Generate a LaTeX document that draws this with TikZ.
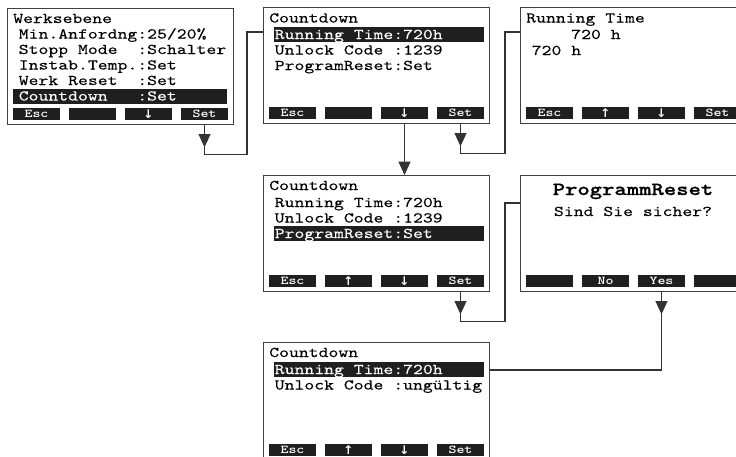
\documentclass[tikz,border=0pt]{standalone}
\usepackage{fontspec}
\usetikzlibrary{calc,arrows.meta,decorations.markings}
\newfontfamily\lcdfont{lmmono10-regular.otf}[FakeStretch=1.26,FakeBold=0.1]
\newfontfamily\lcdboldfont{lmmonolt10-bold.otf}[FakeStretch=1.26,FakeBold=0.9]
\newfontfamily\keyfont{lmmonolt10-bold.otf}[FakeStretch=1.26]
\newfontfamily\arrowfont{DejaVu Sans}
\newcommand\up{{\arrowfont\bfseries ↑}}
\newcommand\dn{{\arrowfont\bfseries ↓}}
% four soft keys under a screen: [y offset]{screen}{key 1}..{key 4}
\newcommand\keyrow[6][106]{%
  \node[key] (#2k1) at ($(#2.north west)+(29.5,#1)$) {#3};
  \node[key] (#2k2) at ($(#2.north west)+(85.5,#1)$) {#4};
  \node[key] (#2k3) at ($(#2.north west)+(141.5,#1)$) {#5};
  \node[key] (#2k4) at ($(#2.north west)+(197.5,#1)$) {#6};}
\begin{document}
\begin{tikzpicture}[x=0.75pt,y=-0.75pt,
  screen/.style={draw=black!75,line width=1pt,anchor=north west,
    minimum width=169.5pt,minimum height=87pt,inner sep=0pt},
  key/.style={fill=black!88,text=white,minimum width=35.25pt,minimum height=9pt,
    inner sep=0pt,font=\keyfont\fontsize{9}{9}\selectfont},
  bar/.style={fill=black!88,anchor=north west,minimum height=11.25pt,inner sep=0pt},
  row/.style={anchor=base west,inner sep=0pt,font=\lcdfont\fontsize{11.2}{13}\selectfont},
  hl/.style={row,text=white},
  conn/.style={draw=black!80,line width=0.8pt},
  tipmark/.style={postaction={decorate,decoration={markings,
    mark=at position 16.5pt with {\arrow{Triangle[length=10pt,width=9pt]}}}}}]
  \useasboundingbox (0,0) rectangle (736,457);
  \clip (0,0) rectangle (736,457);
  % Werksebene
  \node[screen] (s1) at (7,8) {};
  \node[bar,minimum width=160.5pt] (s1hl) at ($(s1.north west)+(6,81)$) {};
  \node[row] (s1t) at ($(s1.north west)+(6,15)$) {Werksebene};
  \node[row] (s1r1) at ($(s1.north west)+(11.5,30.5)$) {Min.Anfordng:25/20\%};
  \node[row] (s1r2) at ($(s1.north west)+(11.5,46)$) {Stopp Mode~~:Schalter};
  \node[row] (s1r3) at ($(s1.north west)+(11.5,61.5)$) {Instab.Temp.:Set};
  \node[row] (s1r4) at ($(s1.north west)+(11.5,77)$) {Werk Reset~~:Set};
  \node[hl] (s1r5) at ($(s1.north west)+(11.5,92.5)$) {Countdown~~~:Set};
  \keyrow{s1}{Esc}{}{\dn}{Set}
  % Countdown, first line selected
  \node[screen] (s2) at (263,7) {};
  \node[bar,minimum width=157.5pt] (s2hl) at ($(s2.north west)+(11,20)$) {};
  \node[row] (s2t) at ($(s2.north west)+(6,15.5)$) {Countdown};
  \node[hl] (s2r1) at ($(s2.north west)+(11.5,32)$) {Running Time:720h};
  \node[row] (s2r2) at ($(s2.north west)+(11.5,47.5)$) {Unlock Code~:1239};
  \node[row] (s2r3) at ($(s2.north west)+(11.5,63)$) {ProgramReset:Set};
  \keyrow{s2}{Esc}{}{\dn}{Set}
  % Running Time
  \node[screen] (s3) at (520,7) {};
  \node[row] (s3t) at ($(s3.north west)+(6,15.5)$) {Running Time};
  \node[row] (s3r1) at ($(s3.north west)+(11.5,32)$) {~~~~720 h};
  \node[row] (s3r2) at ($(s3.north west)+(11.5,48)$) {720 h};
  \keyrow{s3}{Esc}{\up}{\dn}{Set}
  % Countdown, ProgramReset selected
  \node[screen] (s4) at (263,175) {};
  \node[bar,minimum width=157.5pt] (s4hl) at ($(s4.north west)+(11,51)$) {};
  \node[row] (s4t) at ($(s4.north west)+(6,15)$) {Countdown};
  \node[row] (s4r1) at ($(s4.north west)+(11.5,32)$) {Running Time:720h};
  \node[row] (s4r2) at ($(s4.north west)+(11.5,47.5)$) {Unlock Code~:1239};
  \node[hl] (s4r3) at ($(s4.north west)+(11.5,63)$) {ProgramReset:Set};
  \keyrow{s4}{Esc}{\up}{\dn}{Set}
  % ProgrammReset query
  \node[screen] (s5) at (520,175) {};
  \node[row,anchor=base,font=\lcdboldfont\fontsize{14}{16}\selectfont] (s5t)
    at ($(s5.north west)+(113,20)$) {ProgrammReset};
  \node[row,anchor=base] (s5r1) at ($(s5.north west)+(113,41)$) {Sind Sie sicher?};
  \keyrow{s5}{}{No}{Yes}{}
  % Countdown, code reset
  \node[screen] (s6) at (263,342) {};
  \node[bar,minimum width=157.5pt] (s6hl) at ($(s6.north west)+(11,20)$) {};
  \node[row] (s6t) at ($(s6.north west)+(6,15)$) {Countdown};
  \node[hl] (s6r1) at ($(s6.north west)+(11.5,32)$) {Running Time:720h};
  \node[row] (s6r2) at ($(s6.north west)+(11.5,47.5)$) {Unlock Code~:ungültig};
  \keyrow[108]{s6}{Esc}{\up}{\dn}{Set}
  % key paths
  \draw[conn,tipmark] (s1k4.south |- s1.south) -- ++(0,29)
    -| ($(s2.north west)+(-16,25)$) -- ($(s2.north west)+(0,25)$);
  \draw[conn,-{Triangle[length=10pt,width=9pt]}] (s2k3.south |- s2.south)
    -- (s2k3.south |- s4.north);
  \draw[conn,tipmark] (s2k4.south |- s2.south) -- ++(0,29)
    -| ($(s3.north west)+(-15,25)$) -- ($(s3.north west)+(0,25)$);
  \draw[conn,tipmark] (s4k4.south |- s4.south) -- ++(0,29)
    -| ($(s5.north west)+(-15,28)$) -- ($(s5.north west)+(0,28)$);
  \draw[conn,tipmark] (s5k3.south |- s5.south) |- ($(s6.north east)+(0,28)$);
\end{tikzpicture}
\end{document}
